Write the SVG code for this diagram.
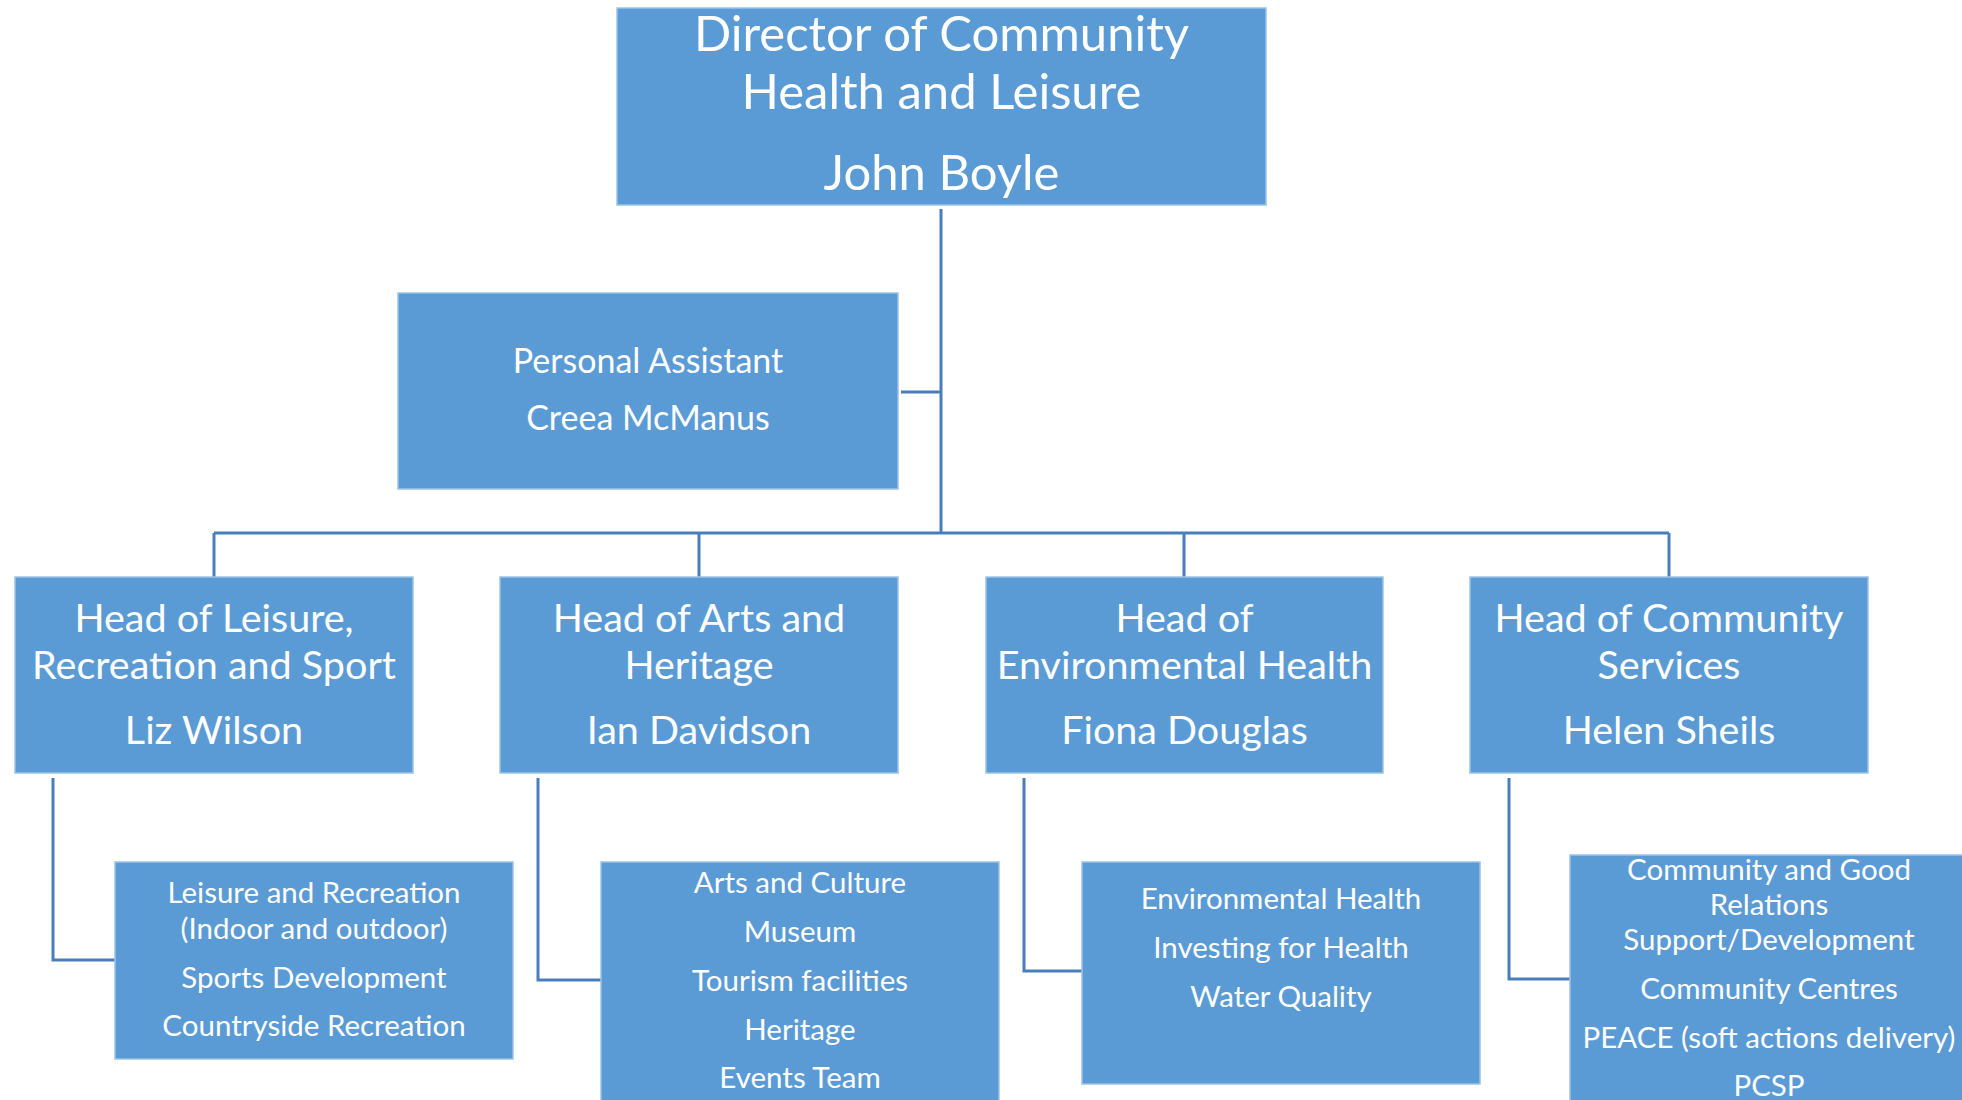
<svg xmlns="http://www.w3.org/2000/svg" width="1962" height="1100" viewBox="0 0 1962 1100">
<style>
.box{fill:#5B9BD5;stroke:#9DC3E6;stroke-width:1.5}
.t{fill:#ffffff;font-family:Lato,"Open Sans","Liberation Sans",sans-serif;text-anchor:middle}
.top{font-size:49px}
.head{font-size:39.5px}
.pa{font-size:34px}
.sub{font-size:29.5px}
.c{fill:none;stroke:#4A7EBB;stroke-width:3}
</style>
<rect width="1962" height="1100" fill="#ffffff"/>
<g id="connectors">
<path class="c" d="M941 209 V533"/>
<path class="c" d="M901 392 H941"/>
<path class="c" d="M214 533 H1669"/>
<path class="c" d="M214 533 V577 M699 533 V577 M1184 533 V577 M1669 533 V577"/>
<path class="c" d="M53 778 V960 H115"/>
<path class="c" d="M538 778 V980 H601"/>
<path class="c" d="M1024 778 V971 H1082"/>
<path class="c" d="M1509 778 V979 H1570"/>
</g>
<g id="director">
<rect class="box" x="617" y="8" width="649" height="197"/>
<text class="t top" x="941.5" y="51">Director of Community</text>
<text class="t top" x="941.5" y="109">Health and Leisure</text>
<text class="t top" x="941.5" y="190">John Boyle</text>
</g>
<g id="pa">
<rect class="box" x="398" y="293" width="500" height="196"/>
<text class="t pa" x="648" y="373">Personal Assistant</text>
<text class="t pa" x="648" y="430">Creea McManus</text>
</g>
<g id="head-leisure">
<rect class="box" x="15" y="577" width="398" height="196"/>
<text class="t head" x="214" y="632">Head of Leisure,</text>
<text class="t head" x="214" y="679">Recreation and Sport</text>
<text class="t head" x="214" y="744">Liz Wilson</text>
</g>
<g id="head-arts">
<rect class="box" x="500" y="577" width="398" height="196"/>
<text class="t head" x="699" y="632">Head of Arts and</text>
<text class="t head" x="699" y="679">Heritage</text>
<text class="t head" x="699" y="744">Ian Davidson</text>
</g>
<g id="head-env">
<rect class="box" x="986" y="577" width="397" height="196"/>
<text class="t head" x="1184.5" y="632">Head of</text>
<text class="t head" x="1184.5" y="679">Environmental Health</text>
<text class="t head" x="1184.5" y="744">Fiona Douglas</text>
</g>
<g id="head-community">
<rect class="box" x="1470" y="577" width="398" height="196"/>
<text class="t head" x="1669" y="632">Head of Community</text>
<text class="t head" x="1669" y="679">Services</text>
<text class="t head" x="1669" y="744">Helen Sheils</text>
</g>
<g id="sub-leisure">
<rect class="box" x="115" y="862" width="398" height="197"/>
<text class="t sub" x="314" y="903">Leisure and Recreation</text>
<text class="t sub" x="314" y="939">(Indoor and outdoor)</text>
<text class="t sub" x="314" y="988">Sports Development</text>
<text class="t sub" x="314" y="1036">Countryside Recreation</text>
</g>
<g id="sub-arts">
<rect class="box" x="601" y="862" width="398" height="250"/>
<text class="t sub" x="800" y="893">Arts and Culture</text>
<text class="t sub" x="800" y="942">Museum</text>
<text class="t sub" x="800" y="991">Tourism facilities</text>
<text class="t sub" x="800" y="1040">Heritage</text>
<text class="t sub" x="800" y="1088">Events Team</text>
</g>
<g id="sub-env">
<rect class="box" x="1082" y="862" width="398" height="222"/>
<text class="t sub" x="1281" y="909">Environmental Health</text>
<text class="t sub" x="1281" y="958">Investing for Health</text>
<text class="t sub" x="1281" y="1007">Water Quality</text>
</g>
<g id="sub-community">
<rect class="box" x="1570" y="855" width="400" height="260"/>
<text class="t sub" x="1769" y="880">Community and Good</text>
<text class="t sub" x="1769" y="915">Relations</text>
<text class="t sub" x="1769" y="950">Support/Development</text>
<text class="t sub" x="1769" y="999">Community Centres</text>
<text class="t sub" x="1769" y="1048">PEACE (soft actions delivery)</text>
<text class="t sub" x="1769" y="1096">PCSP</text>
</g>
</svg>
